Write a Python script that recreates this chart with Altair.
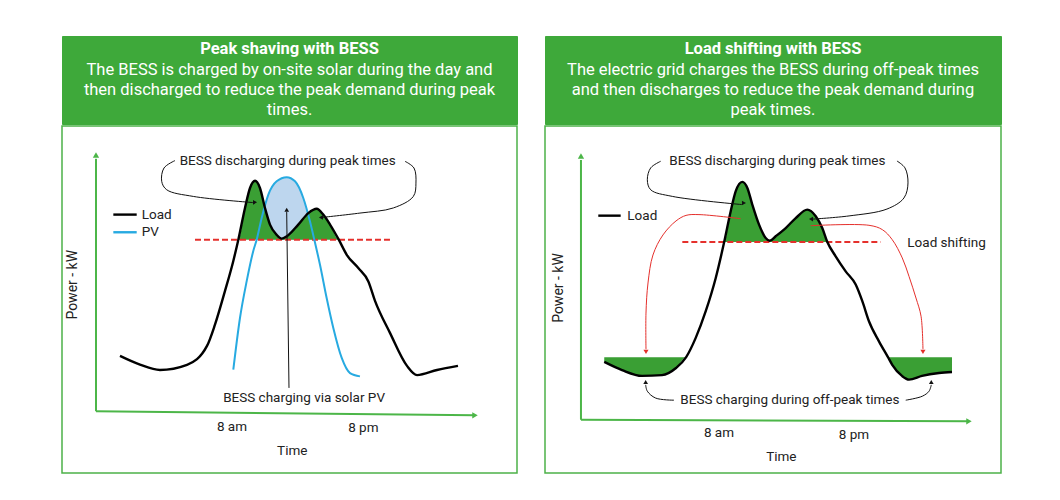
import altair as alt
import pandas as pd

FONT = "Roboto"
HEADER_GREEN = "#3ea93a"
BORDER_GREEN = "#4cb148"
AREA_GREEN = "#3a9f34"
AXIS_GREEN = "#4cb648"
PV_BLUE = "#27aae1"
PV_FILL = "#bdd6ee"
RED = "#e5302c"
TEXT = "#222222"

# ---------------- Panel 1: peak shaving ----------------
ps_title = "Peak shaving with BESS"
ps_lines = ["The BESS is charged by on-site solar during the day and",
            "then discharged to reduce the peak demand during peak",
            "times."]
ps_load_h = [-2.26, -0.43, 1.40, 3.88, 5.71, 6.44, 7.36, 8.12, 8.58, 9.19, 9.65, 10.11, 10.56, 11.02,
             11.48, 12.09, 12.55, 13.01, 14.07, 14.99, 15.76, 16.36, 16.98, 17.78, 18.51, 19.57,
             20.49, 21.10, 22.47, 24.03, 24.95, 26.78, 28.70]
ps_load_kw = [22.3, 18.9, 16.8, 18.8, 26.2, 34.5, 47.7, 59.4, 67.7, 80.1, 87.9, 90.7, 87.9, 80.1,
              73.6, 69.6, 68.1, 69.0, 73.6, 78.1, 79.8, 77.5, 73.6, 67.7, 61.8, 56.6,
              51.4, 43.8, 31.3, 18.4, 14.8, 16.8, 18.4]
ps_pv_h = [8.12, 8.73, 9.35, 9.95, 10.26, 10.72, 11.33, 12.09, 13.01, 13.77, 14.53, 15.14, 15.54,
           16.06, 16.67, 17.28, 18.05, 18.81, 19.72]
ps_pv_kw = [16.9, 37.1, 51.6, 63.3, 67.7, 76.2, 85.3, 90.5, 92.1, 90.5, 84.0, 74.9, 67.7,
            57.9, 44.9, 33.2, 21.5, 15.6, 14.3]
ps_limit_kw = 67.7
ps_limit_h = [4.61, 22.47]
ps_top_text = "BESS discharging during peak times"
ps_top_text_pos = (13.10, 98.4)
ps_bracket_l_h = [2.78, 1.77, 1.56, 2.02, 4.46, 9.92]
ps_bracket_l_k = [98.6, 95.7, 90.5, 87.2, 84.6, 82.2]
ps_bracket_r_h = [23.85, 24.67, 24.85, 24.61, 22.78, 19.72, 16.24]
ps_bracket_r_k = [98.3, 95.7, 89.8, 84.6, 80.1, 78.1, 76.4]
ps_up_arrow_h = [13.22, 13.01]
ps_up_arrow_k = [9.8, 78.5]
ps_bottom_text = "BESS charging via solar PV"
ps_bottom_text_pos = (14.6, 5.9)
ps_legend = ["Load", "PV"]
ps_legend_k = [77.5, 70.6]
ps_legend_h = [-2.87, -0.73, -0.27]
ps_axis_x_h = [-4.46, 30.26]
ps_axis_x_k = [0.7, -0.9]
ps_axis_y_top = 100.8
ps_ticks = ["8 am", "8 pm"]
ps_ticks_h = [8.0, 20.03]
ps_ticks_k = [-5.6, -5.9]
ps_time_pos = (13.52, -14.7)
ps_power_pos = (-6.54, 50.1)
ps_xdom = [-7.572, 34.106]
ps_ydom = [-23.44, 112.11]

# ---------------- Panel 2: load shifting ----------------
ls_title = "Load shifting with BESS"
ls_lines = ["The electric grid charges the BESS during off-peak times",
            "and then discharges to reduce the peak demand during",
            "peak times."]
ls_load_h = [-2.2, -0.62, 1.16, 2.93, 4.18, 5.08, 5.93, 6.82, 7.71, 8.46, 9.04, 9.48, 10.07, 10.52,
             10.96, 11.56, 12.15, 12.51, 13.04, 13.93, 14.82, 15.85, 16.60, 17.18, 17.63, 18.37,
             19.26, 20.15, 20.74, 21.33, 22.22, 23.02, 23.40, 24.29, 24.89, 26.04, 27.56, 28.71]
ls_load_kw = [22.0, 18.9, 16.7, 17.0, 19.7, 23.8, 31.1, 41.2, 53.8, 67.4, 79.1, 86.6, 90.2, 87.9,
              81.6, 74.0, 68.9, 67.9, 69.6, 72.7, 76.5, 79.7, 77.2, 72.7, 67.4, 62.0,
              56.3, 51.3, 45.0, 37.4, 29.8, 23.8, 20.9, 16.6, 15.3, 16.7, 17.8, 18.2]
ls_limit_kw = 67.4
ls_limit_h = [4.74, 22.37]
ls_offpeak_kw = 23.8
ls_top_text = "BESS discharging during peak times"
ls_top_text_pos = (13.19, 98.0)
ls_bracket_l_h = [2.82, 1.93, 1.63, 1.93, 3.85, 10.04]
ls_bracket_l_k = [98.0, 95.5, 91.0, 87.2, 84.7, 81.6]
ls_bracket_r_h = [23.82, 24.53, 24.80, 24.44, 22.93, 19.56, 16.36]
ls_bracket_r_k = [98.1, 95.5, 89.8, 84.1, 79.9, 77.3, 76.1]
ls_shift_l_h = [9.93, 6.22, 5.07, 4.18, 3.02, 2.13, 1.69, 1.51, 1.51]
ls_shift_l_k = [76.25, 77.8, 77.5, 75.4, 70.1, 62.5, 51.9, 40.5, 26.8]
ls_shift_r_h = [16.15, 21.33, 22.52, 23.40, 24.29, 24.89, 25.51, 25.96, 26.13]
ls_shift_r_k = [73.6, 73.75, 72.1, 68.3, 61.4, 54.4, 46.2, 39.3, 26.8]
ls_shift_text = "Load shifting"
ls_shift_text_pos = (24.74, 67.0)
ls_bottom_text = "BESS charging during off-peak times"
ls_bottom_text_pos = (14.30, 7.7)
ls_bottom_l_h = [4.0, 2.37, 1.63, 1.48]
ls_bottom_l_k = [7.5, 8.3, 10.9, 13.3]
ls_bottom_r_h = [24.60, 26.07, 26.67, 26.87]
ls_bottom_r_k = [7.5, 9.0, 10.9, 13.3]
ls_legend = ["Load"]
ls_legend_k = [77.4]
ls_legend_h = [-2.73, -0.74, -0.15]
ls_axis_x_h = [-4.27, 30.22]
ls_axis_x_k = [0.1, -0.5]
ls_axis_y_top = 100.0
ls_ticks = ["8 am", "8 pm"]
ls_ticks_h = [8.0, 20.0]
ls_ticks_k = [-4.9, -5.6]
ls_time_pos = (13.54, -14.0)
ls_power_pos = (-6.22, 50.0)
ls_xdom = [-7.467, 33.067]
ls_ydom = [-20.08, 111.36]

HEADER_H = 88
BODY_H = 347
ANN_SIZE = 13.5


def header(title, lines, width):
    df = pd.DataFrame({"line": list(range(len(lines) + 1)), "text": [title] + lines})
    y = alt.Y("line:Q", scale=alt.Scale(domain=[-0.654, 3.674], reverse=True, nice=False, zero=False), axis=None)
    base = alt.Chart(df).encode(x=alt.value(width / 2), y=y, text="text:N")
    t = base.transform_filter("datum.line == 0").mark_text(
        font=FONT, fontSize=16.5, fontWeight="bold", color="white", baseline="middle", align="center")
    b = base.transform_filter("datum.line > 0").mark_text(
        font=FONT, fontSize=16.5, color="white", baseline="middle", align="center")
    return alt.layer(t, b).properties(
        width=width, height=HEADER_H,
        view=alt.ViewBackground(fill=HEADER_GREEN, stroke=HEADER_GREEN, strokeWidth=1))


def path_df(paths):
    rows = []
    for pid, (hs, ks) in enumerate(paths):
        for i, (h, k) in enumerate(zip(hs, ks)):
            rows.append({"id": pid, "i": i, "h": h, "k": k})
    return pd.DataFrame(rows)


def body(width, xdom, ydom, load_h, load_kw, limit_kw, limit_h, top_text, top_pos,
         brackets, heads, legend, legend_h, legend_k, legend_colors, axis_x_h, axis_x_k, axis_y_top,
         ticks, ticks_h, ticks_k, time_pos, power_pos, extra_texts, left_texts,
         pv=None, offpeak=None, red_paths=None, red_heads=None):
    X = alt.X("h:Q", scale=alt.Scale(domain=xdom, nice=False, zero=False), axis=None)
    Y = alt.Y("k:Q", scale=alt.Scale(domain=ydom, nice=False, zero=False), axis=None)

    def Yf(f):
        return alt.Y(f, scale=alt.Scale(domain=ydom, nice=False, zero=False), axis=None)

    layers = []

    load = pd.DataFrame({"h": load_h, "k": load_kw})
    load["top"] = [max(v, limit_kw) for v in load_kw]
    load["thr"] = limit_kw

    if pv is not None:
        pdf = pd.DataFrame({"h": pv[0], "k": pv[1]})
        pdf["top"] = [max(v, limit_kw) for v in pv[1]]
        pdf["thr"] = limit_kw
        layers.append(alt.Chart(pdf).mark_area(color=PV_FILL, opacity=1, interpolate="monotone").encode(
            x=X, y=Yf("top:Q"), y2="thr:Q"))

    layers.append(alt.Chart(load).mark_area(color=AREA_GREEN, opacity=1, interpolate="monotone").encode(
        x=X, y=Yf("top:Q"), y2="thr:Q"))

    if offpeak is not None:
        off = pd.DataFrame({"h": load_h})
        off["lvl"] = offpeak
        off["bot"] = [min(v, offpeak) for v in load_kw]
        layers.append(alt.Chart(off).mark_area(color=AREA_GREEN, opacity=1, interpolate="monotone").encode(
            x=X, y=Yf("lvl:Q"), y2="bot:Q"))

    lim = pd.DataFrame({"h": limit_h, "k": [limit_kw, limit_kw]})
    layers.append(alt.Chart(lim).mark_line(color=RED, strokeWidth=2, strokeDash=[6, 3]).encode(x=X, y=Y))

    if pv is not None:
        pl = pd.DataFrame({"h": pv[0], "k": pv[1]})
        layers.append(alt.Chart(pl).mark_line(color=PV_BLUE, strokeWidth=2, interpolate="monotone").encode(x=X, y=Y))

    layers.append(alt.Chart(load).mark_line(color="black", strokeWidth=2.4, interpolate="monotone").encode(x=X, y=Y))

    # black annotation paths
    bdf = path_df(brackets)
    layers.append(alt.Chart(bdf).mark_line(color="#111111", strokeWidth=1, interpolate="catmull-rom").encode(
        x=X, y=Y, detail="id:N", order="i:Q"))
    hdf = pd.DataFrame(heads, columns=["h", "k", "shape"])
    layers.append(alt.Chart(hdf).mark_point(filled=True, opacity=1, strokeWidth=0, size=22, color="#111111").encode(
        x=X, y=Y, shape=alt.Shape("shape:N", scale=None)))

    if red_paths is not None:
        rdf = path_df(red_paths)
        layers.append(alt.Chart(rdf).mark_line(color=RED, strokeWidth=1, interpolate="catmull-rom").encode(
            x=X, y=Y, detail="id:N", order="i:Q"))
        rh = pd.DataFrame(red_heads, columns=["h", "k", "shape"])
        layers.append(alt.Chart(rh).mark_point(filled=True, opacity=1, strokeWidth=0, size=26, color=RED).encode(
            x=X, y=Y, shape=alt.Shape("shape:N", scale=None)))

    # axes
    ax = path_df([(axis_x_h, axis_x_k), ([axis_x_h[0], axis_x_h[0]], [axis_x_k[0], axis_y_top - 1.5])])
    layers.append(alt.Chart(ax).mark_line(color=AXIS_GREEN, strokeWidth=2).encode(x=X, y=Y, detail="id:N", order="i:Q"))
    axh = pd.DataFrame([(axis_x_h[1], axis_x_k[1], "triangle-right"), (axis_x_h[0], axis_y_top, "triangle-up")],
                       columns=["h", "k", "shape"])
    layers.append(alt.Chart(axh).mark_point(filled=True, opacity=1, strokeWidth=0, size=40, color=AXIS_GREEN).encode(
        x=X, y=Y, shape=alt.Shape("shape:N", scale=None)))

    # legend
    lrows = []
    for i, (name, kk) in enumerate(zip(legend, legend_k)):
        lrows.append({"id": i, "i": 0, "h": legend_h[0], "k": kk, "c": legend_colors[i]})
        lrows.append({"id": i, "i": 1, "h": legend_h[1], "k": kk, "c": legend_colors[i]})
    ldf = pd.DataFrame(lrows)
    layers.append(alt.Chart(ldf).mark_line(strokeWidth=2.4).encode(
        x=X, y=Y, detail="id:N", order="i:Q", color=alt.Color("c:N", scale=None)))
    ltx = pd.DataFrame({"h": [legend_h[2]] * len(legend) + [p[0] for p in left_texts],
                        "k": legend_k + [p[1] for p in left_texts],
                        "t": legend + [p[2] for p in left_texts]})
    layers.append(alt.Chart(ltx).mark_text(font=FONT, fontSize=13.5, color=TEXT, align="left", baseline="middle").encode(
        x=X, y=Y, text="t:N"))

    # centered texts
    ctexts = [(top_pos[0], top_pos[1], top_text)] + extra_texts + \
             [(h, k, t) for h, k, t in zip(ticks_h, ticks_k, ticks)] + [(time_pos[0], time_pos[1], "Time")]
    cdf = pd.DataFrame(ctexts, columns=["h", "k", "t"])
    layers.append(alt.Chart(cdf).mark_text(font=FONT, fontSize=ANN_SIZE, color=TEXT, align="center",
                                           baseline="middle").encode(x=X, y=Y, text="t:N"))
    pdf2 = pd.DataFrame({"h": [power_pos[0]], "k": [power_pos[1]], "t": ["Power - kW"]})
    layers.append(alt.Chart(pdf2).mark_text(font=FONT, fontSize=14, color=TEXT, align="center", baseline="middle",
                                            angle=270).encode(x=X, y=Y, text="t:N"))

    return alt.layer(*layers).properties(
        width=width, height=BODY_H,
        view=alt.ViewBackground(fill="white", stroke=BORDER_GREEN, strokeWidth=1.5))


W1, W2 = 455, 456

left_body = body(
    W1, ps_xdom, ps_ydom, ps_load_h, ps_load_kw, ps_limit_kw, ps_limit_h, ps_top_text, ps_top_text_pos,
    [(ps_bracket_l_h, ps_bracket_l_k), (ps_bracket_r_h, ps_bracket_r_k), (ps_up_arrow_h, ps_up_arrow_k)],
    [(10.11, 82.3, "triangle-right"), (16.15, 76.4, "triangle-left"), (13.01, 79.4, "triangle-up")],
    ps_legend, ps_legend_h, ps_legend_k, ["black", PV_BLUE], ps_axis_x_h, ps_axis_x_k, ps_axis_y_top,
    ps_ticks, ps_ticks_h, ps_ticks_k, ps_time_pos, ps_power_pos,
    [(ps_bottom_text_pos[0], ps_bottom_text_pos[1], ps_bottom_text)], [],
    pv=(ps_pv_h, ps_pv_kw))

right_body = body(
    W2, ls_xdom, ls_ydom, ls_load_h, ls_load_kw, ls_limit_kw, ls_limit_h, ls_top_text, ls_top_text_pos,
    [(ls_bracket_l_h, ls_bracket_l_k), (ls_bracket_r_h, ls_bracket_r_k),
     (ls_bottom_l_h, ls_bottom_l_k), (ls_bottom_r_h, ls_bottom_r_k)],
    [(10.22, 82.2, "triangle-right"), (16.18, 76.1, "triangle-left"),
     (1.48, 14.4, "triangle-up"), (26.87, 14.4, "triangle-up")],
    ls_legend, ls_legend_h, ls_legend_k, ["black"], ls_axis_x_h, ls_axis_x_k, ls_axis_y_top,
    ls_ticks, ls_ticks_h, ls_ticks_k, ls_time_pos, ls_power_pos,
    [(ls_bottom_text_pos[0], ls_bottom_text_pos[1], ls_bottom_text)],
    [(ls_shift_text_pos[0], ls_shift_text_pos[1], ls_shift_text)],
    offpeak=ls_offpeak_kw,
    red_paths=[(ls_shift_l_h, ls_shift_l_k), (ls_shift_r_h, ls_shift_r_k)],
    red_heads=[(1.51, 25.8, "triangle-down"), (26.13, 25.8, "triangle-down")])

left_panel = alt.vconcat(header(ps_title, ps_lines, W1), left_body, spacing=0)
right_panel = alt.vconcat(header(ls_title, ls_lines, W2), right_body, spacing=0)

chart = alt.hconcat(left_panel, right_panel, spacing=26).properties(
    padding={"left": 53, "top": 27, "right": 0, "bottom": 0}
).configure_view(stroke=None)

chart.save("out.html", embed_options={"renderer": "svg", "actions": False})
